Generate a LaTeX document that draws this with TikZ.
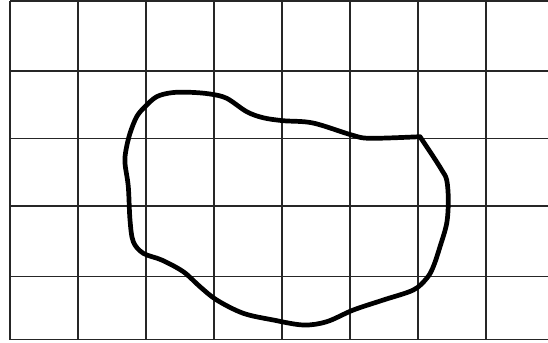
\documentclass[tikz,border=0pt]{standalone}
\usepackage{tikz}

\begin{document}
\begin{tikzpicture}[x=0.85pt, y=-0.85pt,
  gridline/.style={draw=black!85, line width=0.9pt},
  outline/.style={draw=black, line width=4pt, line join=round, line cap=round}]
  \useasboundingbox (0,0) rectangle (548,343);
  \clip (0,0) rectangle (548,343);

  % Grid
  \foreach \gx in {10,78,146,214,282,350,418,486}
    \draw[gridline] (\gx,1) -- (\gx,339.5);
  \foreach \gy in {1,71,138.5,206,276.3,339.5}
    \draw[gridline] (10,\gy) -- (548,\gy);

  % Closed outline, sharp corner at the top right
  \coordinate (corner) at (420,136.7);
  \draw[outline] plot[smooth, tension=0.55] coordinates {
    (420,136.7) (370,138.3) (351.7,135) (313,123) (283,120.7) (263,117.7)
    (246.7,111.7) (226.7,98.3) (210,94) (190,92.3) (171.7,92.7) (156.7,96.7)
    (145,106.7) (136.7,116.7) (130,133.3) (126,150) (125,163.3) (128.3,186.7)
    (130,220) (133.3,241.7) (143.3,253.3) (161.7,260) (183.3,271.7) (200,286.7)
    (216.7,300) (243.3,313.3) (273.3,320) (303.3,325) (326.7,321.7) (353.3,310)
    (383.3,300) (413.3,290) (426.7,278.3) (433.3,266.7) (440,246.7) (446.7,223.3)
    (448.3,200) (446.7,180) (441.7,170) (433.3,156.7) (420,136.7)};
\end{tikzpicture}
\end{document}
